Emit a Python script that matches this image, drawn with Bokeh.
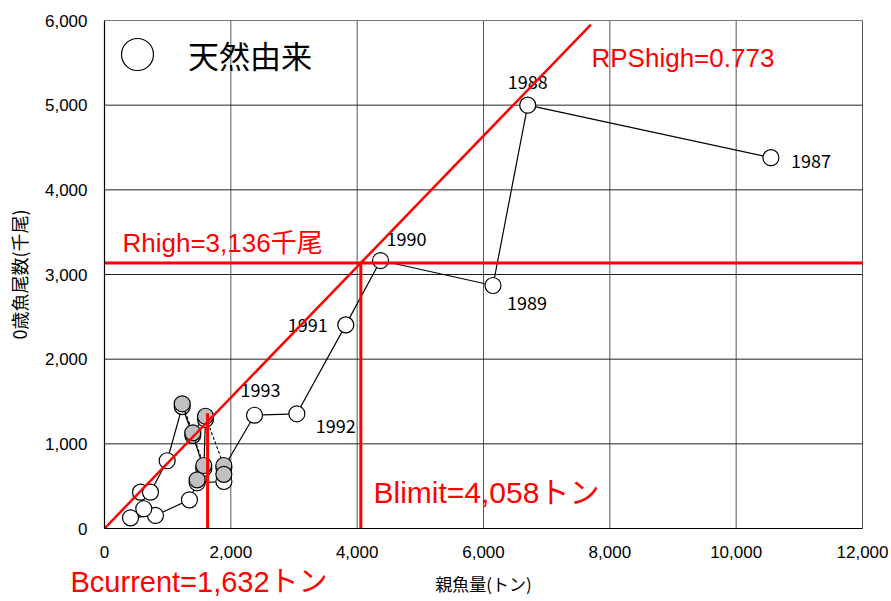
from bokeh.plotting import figure
from bokeh.models import (ColumnDataSource, NumeralTickFormatter, FixedTicker, Label,
                          Legend, LegendItem, Range1d)
from bokeh.core.properties import value
from bokeh.embed import file_html
from bokeh.resources import INLINE

# ---------------- data ----------------
# natural-origin recruits (open circles, solid line), chronological order
white_x = [10550, 6700, 6150, 4370, 3820, 3045, 2375, 1890, 1890, 1467, 1345,
           807, 412, 622, 570, 728, 992, 1230, 1398, 1572, 1599]
white_y = [4380, 5000, 2870, 3165, 2405, 1355, 1338, 720, 555, 540, 339,
           154, 126, 233, 429, 429, 800, 1440, 1100, 710, 1290]

# grey points (dashed line)
gray_x = [1467, 1572, 1230, 1398, 1599, 1889, 1889]
gray_y = [575, 744, 1473, 1130, 1326, 744, 640]

# year labels
label_years = ["1987", "1988", "1989", "1990", "1991", "1992", "1993"]
label_x = white_x[:7]
label_y = white_y[:7]

# reference values
rps_high = 0.773
rps_end_x = 7700
r_high = 3136
b_limit = 4058
b_current = 1632
b_current_top = 1360

x_ticks = [0, 2000, 4000, 6000, 8000, 10000, 12000]
y_ticks = [0, 1000, 2000, 3000, 4000, 5000, 6000]
X_MAX = 12000
Y_MAX = 6000

JP = "'Noto Sans CJK JP'"
LAT = "'Liberation Sans', 'Noto Sans CJK JP'"
RED = "#FF0000"

# ---------------- layout (the frame fills the whole canvas) ----------------
W, H = 889, 600
PX_LEFT, PX_RIGHT = 104, 862     # pixel of x=0 and x=12000
PX_TOP, PX_BOTTOM = 20, 528      # pixel of y=6000 and y=0
sx = (PX_RIGHT - PX_LEFT) / X_MAX
sy = (PX_BOTTOM - PX_TOP) / Y_MAX
x_range = Range1d(-PX_LEFT / sx, (W - PX_LEFT) / sx)
y_range = Range1d(-(H - PX_BOTTOM) / sy, Y_MAX + PX_TOP / sy)

def px_x(px):
    return (px - PX_LEFT) / sx

def px_y(py):
    return (PX_BOTTOM - py) / sy

p = figure(width=W, height=H, output_backend="svg", toolbar_location=None,
           x_range=x_range, y_range=y_range,
           min_border=0, min_border_left=0, min_border_right=0,
           min_border_top=0, min_border_bottom=0)
p.background_fill_color = "white"
p.border_fill_color = "white"
p.outline_line_color = None
p.xgrid.visible = False
p.ygrid.visible = False

# grid lines drawn from the tick lists
p.segment(x0=x_ticks[1:], y0=[0] * 6, x1=x_ticks[1:], y1=[Y_MAX] * 6,
          line_color="#555555", line_width=1)
p.segment(x0=[0] * 5, y0=y_ticks[1:-1], x1=[X_MAX] * 5, y1=y_ticks[1:-1],
          line_color="#222222", line_width=1)
p.segment(x0=[0], y0=[Y_MAX], x1=[X_MAX], y1=[Y_MAX],
          line_color="#777777", line_width=1.2)

for ax in (p.xaxis[0], p.yaxis[0]):
    ax.formatter = NumeralTickFormatter(format="0,0")
    ax.fixed_location = 0
    ax.major_tick_in = 0
    ax.major_tick_out = 0
    ax.minor_tick_line_color = None
    ax.axis_line_color = "black"
    ax.axis_line_width = 1.2
    ax.major_label_text_font = LAT
    ax.major_label_text_font_size = "17px"
    ax.major_label_text_color = "black"
    ax.axis_label_text_font = JP
    ax.axis_label_text_font_style = "normal"
    ax.axis_label_text_color = "black"
    ax.axis_label_standoff = 10

p.xaxis[0].ticker = FixedTicker(ticks=x_ticks)
p.yaxis[0].ticker = FixedTicker(ticks=y_ticks)
p.xaxis[0].bounds = (0, X_MAX)
p.yaxis[0].bounds = (0, Y_MAX)
p.xaxis[0].major_label_standoff = 17
p.yaxis[0].major_label_standoff = 17
p.xaxis[0].axis_label = "親魚量(トン)"
p.yaxis[0].axis_label = "0歳魚尾数(千尾)"
p.xaxis[0].axis_label_text_font_size = "17px"
p.yaxis[0].axis_label_text_font_size = "18px"

# ---------------- series ----------------
wsrc = ColumnDataSource(dict(x=white_x, y=white_y))
gsrc = ColumnDataSource(dict(x=gray_x, y=gray_y))

p.line("x", "y", source=wsrc, line_color="black", line_width=1.2)
white_pts = p.scatter("x", "y", source=wsrc, marker="circle", size=16,
                      fill_color="white", line_color="black", line_width=1.2)
p.line("x", "y", source=gsrc, line_color="black", line_width=1.1, line_dash="3 2")
p.scatter("x", "y", source=gsrc, marker="circle", size=16,
          fill_color="#C0C0C0", line_color="black", line_width=1.2)

# year labels
x_off = [20, 0, 14, 6, -18, 19, 6]
y_off = [3, -23, 17, -22, 0, 12, -25]
aligns = ["left", "center", "left", "left", "right", "left", "center"]
lsrc = ColumnDataSource(dict(x=label_x, y=label_y, t=label_years,
                             xo=x_off, yo=y_off, al=aligns))
p.text("x", "y", text="t", source=lsrc, x_offset="xo", y_offset="yo",
       text_align="al", text_baseline="middle", text_font=value(JP),
       text_font_size="18px", text_color="black")

# ---------------- reference lines ----------------
p.line([0, rps_end_x], [0, rps_high * rps_end_x], line_color=RED, line_width=2.5)
p.line([0, X_MAX], [r_high, r_high], line_color=RED, line_width=3)
p.line([b_limit, b_limit], [0, r_high], line_color=RED, line_width=3)
p.line([b_current, b_current], [0, b_current_top], line_color=RED, line_width=3)

# red annotation texts
p.add_layout(Label(x=px_x(591), y=px_y(57), text=f"RPShigh={rps_high}", text_color=RED,
                   text_font=LAT, text_font_size="26px", text_baseline="middle"))
p.add_layout(Label(x=px_x(122), y=px_y(242), text=f"Rhigh={r_high:,}千尾", text_color=RED,
                   text_font=LAT, text_font_size="26px", text_baseline="middle"))
p.add_layout(Label(x=px_x(373), y=px_y(492), text=f"Blimit={b_limit:,}トン", text_color=RED,
                   text_font=LAT, text_font_size="30px", text_baseline="middle"))
p.add_layout(Label(x=px_x(70), y=px_y(581), text=f"Bcurrent={b_current:,}トン",
                   text_color=RED, text_font=LAT, text_font_size="29px",
                   text_baseline="middle"))

# legend
legend = Legend(items=[LegendItem(label="天然由来", renderers=[white_pts])],
                location=(97, H - 14 - 80), margin=0, padding=0, glyph_width=80,
                glyph_height=80, label_standoff=11,
                label_text_font=JP, label_text_font_size="31px",
                label_text_color="black", border_line_alpha=0,
                background_fill_alpha=0)
p.add_layout(legend)

open("out.html", "w").write(file_html(p, INLINE))
